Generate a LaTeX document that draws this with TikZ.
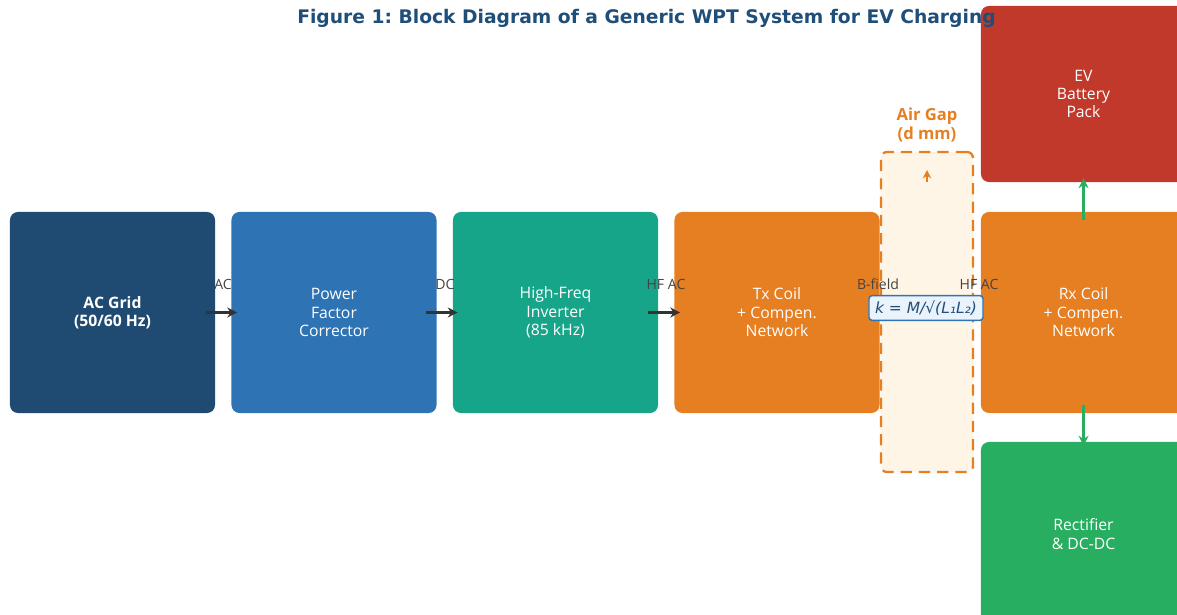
\documentclass[tikz,border=0pt]{standalone}
\usepackage{fontspec}
\setmainfont{Open Sans}
\newfontfamily\titlefont{DejaVu Sans}
\newfontfamily\symfont{DejaVu Sans}
\usetikzlibrary{arrows.meta}
\definecolor{cgrid}{HTML}{1F4A72}
\definecolor{cpfc}{HTML}{2E73B4}
\definecolor{cinv}{HTML}{17A589}
\definecolor{corange}{HTML}{E67E22}
\definecolor{cbatt}{HTML}{C0392B}
\definecolor{crect}{HTML}{27AE60}
\definecolor{cgap}{HTML}{FEF5E7}
\definecolor{ctitle}{HTML}{1F4E79}
\definecolor{carrow}{HTML}{333333}
\definecolor{clabel}{HTML}{444444}
\definecolor{ckfill}{HTML}{EAF2FB}
\definecolor{ckdraw}{HTML}{2E75B6}
\tikzset{
  block/.style={rounded corners=0.2cm, minimum width=5.125cm, minimum height=5.025cm,
    inner sep=0pt, text=white, align=center, font=\fontsize{11.2}{13.1}\selectfont},
  arr/.style={draw=carrow, line width=1.8pt, -{Stealth[length=7pt,width=7pt]}},
  garr/.style={draw=crect, line width=1.8pt, -{Stealth[length=7pt,width=7pt]}},
  lbl/.style={text=clabel, font=\fontsize{10}{12}\selectfont, inner sep=0pt},
}
\frenchspacing
\begin{document}
\begin{tikzpicture}[x=0.025cm, y=-0.025cm]
\useasboundingbox (0,0) rectangle (1177,615);
\clip (0,0) rectangle (1177,615);
% air gap
\node[draw=corange, fill=cgap, dashed, dash pattern=on 8pt off 5pt, line width=1.6pt,
  rounded corners=0.15cm, minimum width=2.3cm, minimum height=8.0cm, inner sep=0pt]
  (gap) at (927,312) {};
\node[text=corange, font=\bfseries\fontsize{11.8}{13.3}\selectfont, align=center] (gaplbl) at (927,125) {Air Gap\\(d mm)};
\coordinate (ga1) at (927,182);
\coordinate (ga2) at (927,170);
\draw[draw=corange, line width=1.4pt, -{Stealth[length=6pt,width=6pt]}] (ga1) -- (ga2);
% blocks
\node[block, fill=cgrid, font=\bfseries\fontsize{11.2}{13.1}\selectfont] (grid) at (112.5,312.5) {AC Grid\\(50/60 Hz)};
\node[block, fill=cpfc] (pfc) at (334,312.5) {Power\\Factor\\Corrector};
\node[block, fill=cinv] (inv) at (555.5,312.5) {High-Freq\\Inverter\\(85 kHz)};
\node[block, fill=corange] (tx) at (777,312.5) {Tx Coil\\+ Compen.\\Network};
\node[block, fill=corange] (rx) at (1083.5,312.5) {Rx Coil\\+ Compen.\\Network};
\node[block, fill=cbatt, minimum height=4.4cm] (batt) at (1083.5,94) {EV\\Battery\\Pack};
\node[block, fill=crect, minimum height=4.6cm] (rect) at (1083.5,534) {Rectifier\\\& DC-DC};
% labels
\node[lbl] (lac) at (223,284) {AC};
\node[lbl] (ldc) at (445,284) {DC};
\node[lbl] (lhf) at (666,284) {HF AC};
\node[lbl] (lbf) at (878,284) {B-field};
\node[lbl] (lhf2) at (979,284) {HF AC};
% k box
\node[draw=ckdraw, fill=ckfill, rounded corners=0.08cm, line width=1pt, text=ctitle,
  font=\symfont\itshape\fontsize{11}{12}\selectfont, inner xsep=3pt, inner ysep=2pt,
  minimum width=2.85cm, minimum height=0.62cm] (k) at (926,308)
  {k = M/√(L₁L₂)};
% arrows
\draw[arr] ([xshift=-0.225cm]grid.east) -- ([xshift=0.15cm]pfc.west);
\draw[arr] ([xshift=-0.275cm]pfc.east) -- ([xshift=0.125cm]inv.west);
\draw[arr] ([xshift=-0.25cm]inv.east) -- ([xshift=0.15cm]tx.west);
\draw[garr] ([yshift=-0.2cm]rx.north) -- ([yshift=0.1cm]batt.south);
\draw[garr] ([yshift=0.2cm]rx.south) -- ([yshift=-0.1cm]rect.north);
% title
\node[text=ctitle, font=\titlefont\bfseries\fontsize{13.3}{15}\selectfont] (title) at (646.5,18)
  {Figure 1: Block Diagram of a Generic WPT System for EV Charging};
\end{tikzpicture}
\end{document}
